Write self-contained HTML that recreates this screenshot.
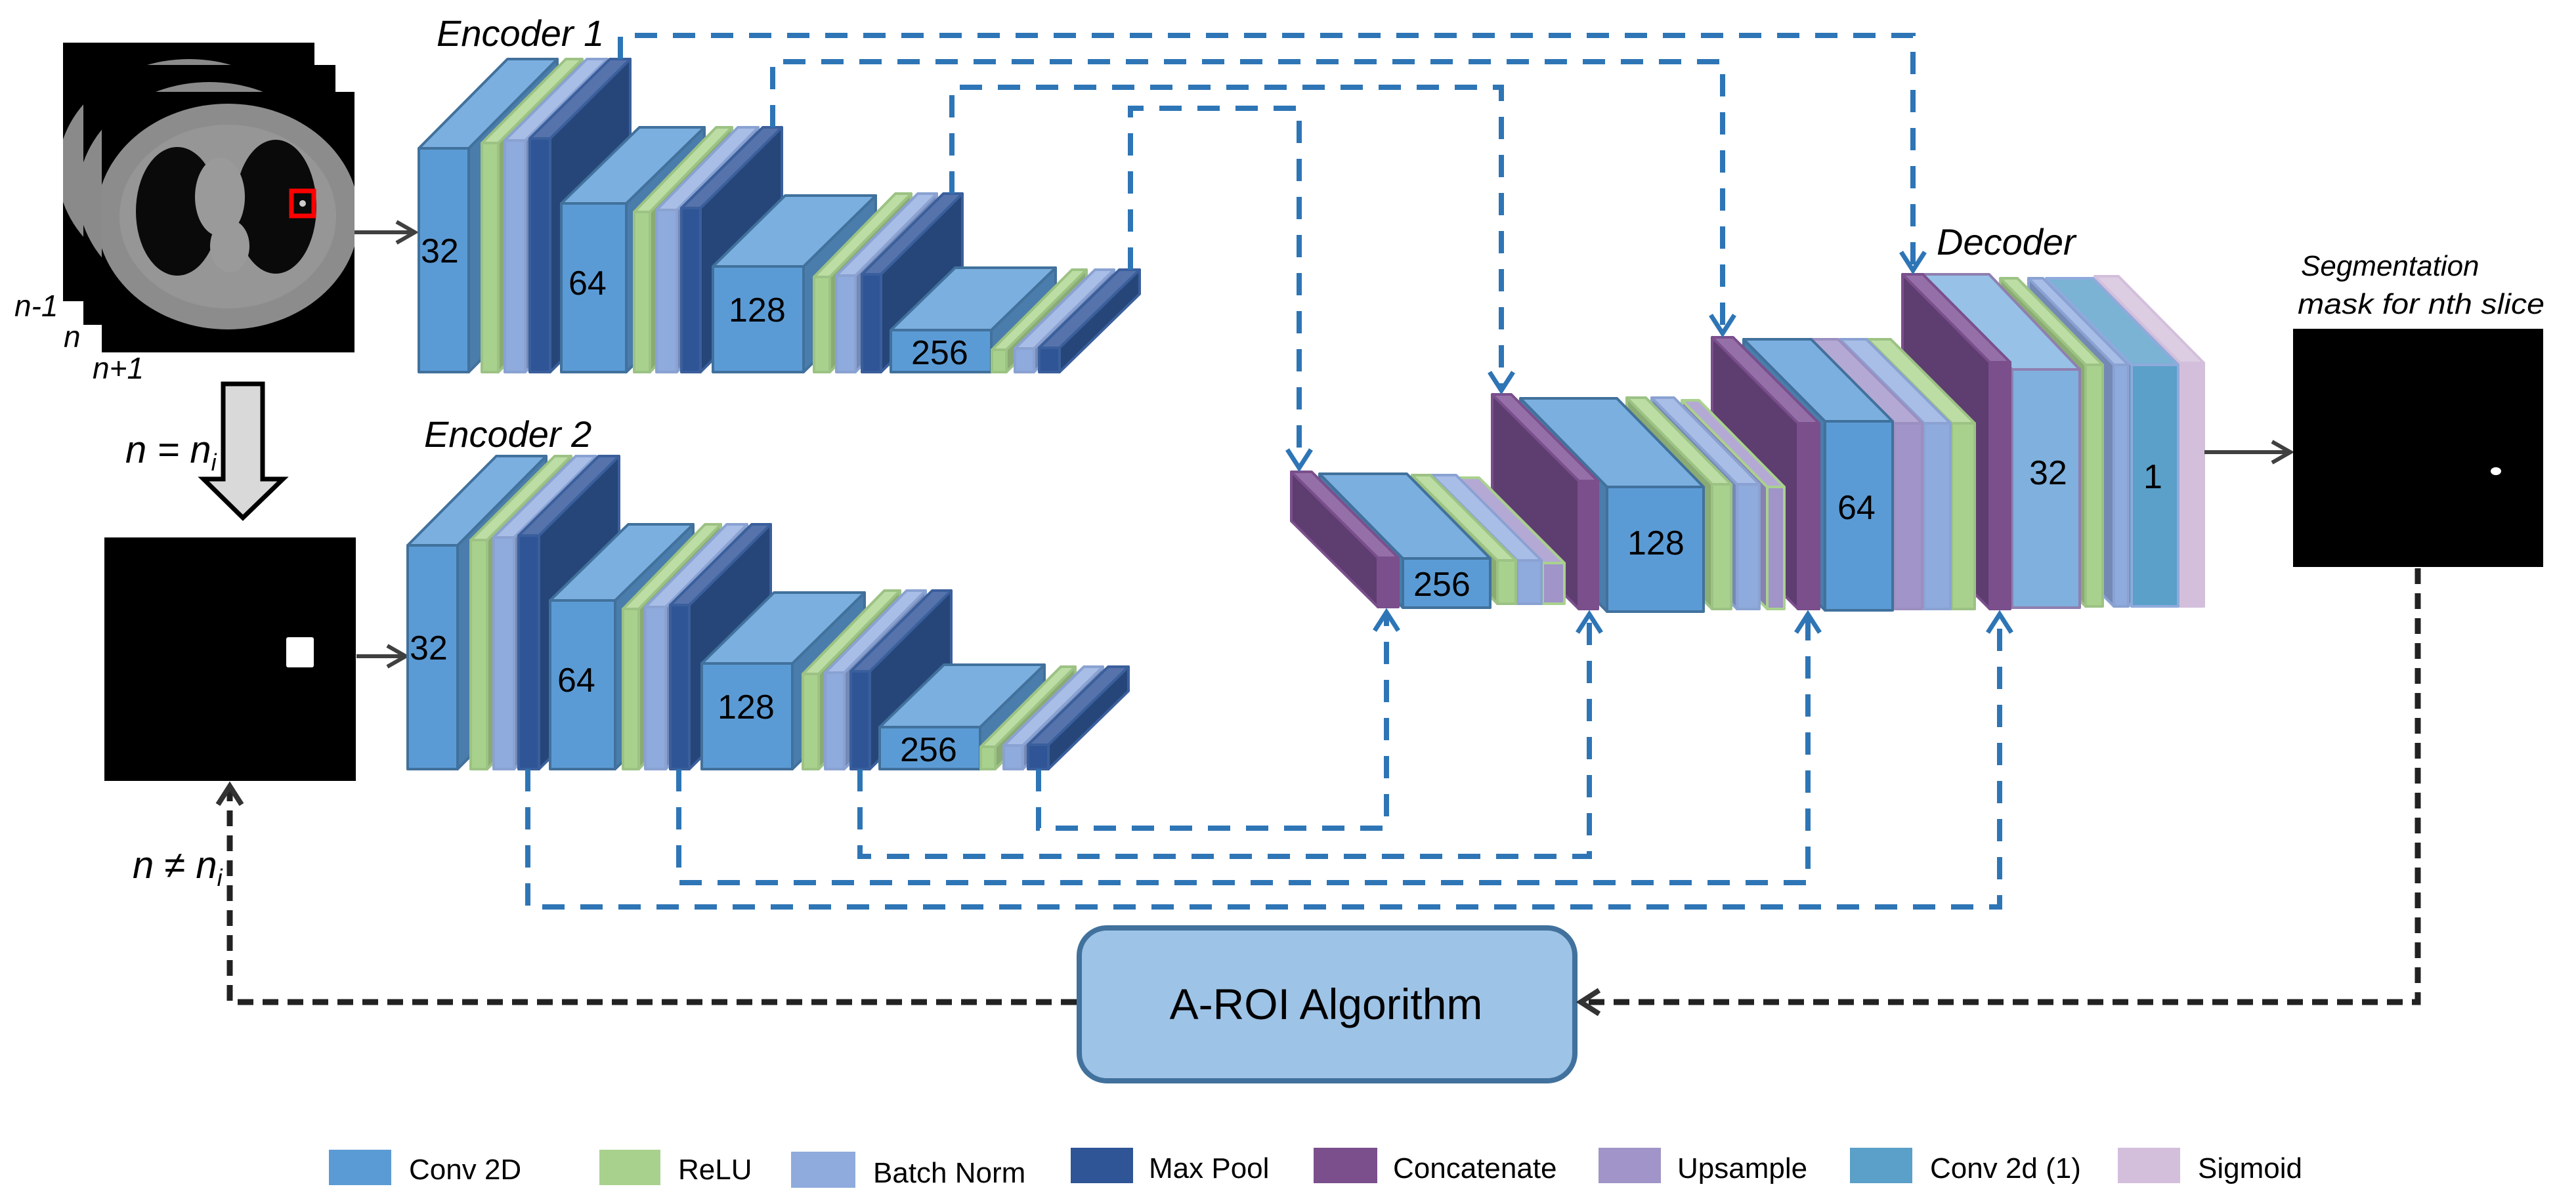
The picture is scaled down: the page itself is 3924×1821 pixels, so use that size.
<!DOCTYPE html>
<html><head><meta charset="utf-8"><style>
html,body{margin:0;padding:0;background:#fff;}
svg{display:block;}
text{font-family:"Liberation Sans",sans-serif;}
</style></head><body>
<svg id="s" width="3924" height="1821" viewBox="0 0 3924 1821" xmlns="http://www.w3.org/2000/svg">
<defs>
<marker id="ab" markerWidth="12" markerHeight="12" refX="10" refY="6" orient="auto" markerUnits="userSpaceOnUse" viewBox="0 0 12 12" style="overflow:visible">
<path d="M-18,-12 L10,6 L-18,24" fill="none" stroke="#2e75b6" stroke-width="7"/></marker>
<marker id="ak" markerWidth="12" markerHeight="12" refX="10" refY="6" orient="auto" markerUnits="userSpaceOnUse" viewBox="0 0 12 12" style="overflow:visible">
<path d="M-18,-12 L10,6 L-18,24" fill="none" stroke="#333" stroke-width="8"/></marker>
<marker id="ag" markerWidth="12" markerHeight="12" refX="10" refY="6" orient="auto" markerUnits="userSpaceOnUse" viewBox="0 0 12 12" style="overflow:visible">
<path d="M-18,-10 L10,6 L-18,22" fill="none" stroke="#404040" stroke-width="6"/></marker>
<clipPath id="c1"><rect x="96" y="65" width="383" height="394"/></clipPath>
<clipPath id="c2"><rect x="127" y="99" width="384" height="396"/></clipPath>
<clipPath id="c3"><rect x="155" y="140" width="385" height="397"/></clipPath>
</defs>

<!-- CT slices -->
<g>
<rect x="96" y="65" width="383" height="394" fill="#000"/>
<g clip-path="url(#c1)"><ellipse cx="288" cy="260" rx="200" ry="170" fill="#8a8a8a"/></g>
<rect x="127" y="99" width="384" height="396" fill="#000"/>
<g clip-path="url(#c2)"><ellipse cx="319" cy="295" rx="200" ry="170" fill="#8a8a8a"/></g>
<rect x="155" y="140" width="385" height="397" fill="#000"/>
<g clip-path="url(#c3)">
<ellipse cx="347" cy="330" rx="200" ry="172" fill="#8c8c8c"/>
<ellipse cx="347" cy="330" rx="165" ry="140" fill="#969696"/>
<ellipse cx="270" cy="322" rx="63" ry="98" fill="#0a0a0a"/>
<ellipse cx="420" cy="315" rx="62" ry="102" fill="#0a0a0a"/>
<ellipse cx="335" cy="300" rx="38" ry="60" fill="#9a9a9a"/>
<ellipse cx="350" cy="375" rx="30" ry="40" fill="#9a9a9a"/>
</g>
<rect x="444" y="291" width="34" height="38" fill="none" stroke="#f00" stroke-width="7"/>
<circle cx="461" cy="310" r="5" fill="#ccc"/>
</g>
<text x="22" y="482" font-size="46" font-style="italic">n-1</text>
<text x="97" y="529" font-size="46" font-style="italic">n</text>
<text x="141" y="577" font-size="46" font-style="italic">n+1</text>
<line x1="540" y1="354" x2="632" y2="354" stroke="#404040" stroke-width="6" marker-end="url(#ag)"/>

<!-- gray big arrow -->
<path d="M340,585 L400,585 L400,730 L431,730 L370,789 L310,730 L340,730 Z" fill="#d9d9d9" stroke="#000" stroke-width="7"/>
<text x="191" y="705" font-size="58" font-style="italic">n = n<tspan font-size="36" dy="12">i</tspan></text>

<!-- mask 2 -->
<rect x="159" y="819" width="383" height="371" fill="#000"/>
<rect x="436" y="971" width="42" height="46" rx="3" fill="#fff"/>
<line x1="543" y1="1000" x2="618" y2="1000" stroke="#404040" stroke-width="6" marker-end="url(#ag)"/>
<text x="202" y="1338" font-size="58" font-style="italic">n ≠ n<tspan font-size="36" dy="12">i</tspan></text>

<g id="enc1"></g>
<g id="enc2"></g>
<g id="dec"></g>

<text x="665" y="70" font-size="56" font-style="italic">Encoder 1</text>
<text x="646" y="681" font-size="56" font-style="italic">Encoder 2</text>
<text x="2950" y="388" font-size="56" font-style="italic">Decoder</text>

<g font-size="52">
<text x="641" y="400">32</text>
<text x="866" y="449">64</text>
<text x="1110" y="490">128</text>
<text x="1388" y="555">256</text>
<text x="624" y="1005">32</text>
<text x="849" y="1054">64</text>
<text x="1093" y="1095">128</text>
<text x="1371" y="1160">256</text>
<text x="2153" y="908">256</text>
<text x="2479" y="845">128</text>
<text x="2799" y="791">64</text>
<text x="3091" y="738">32</text>
<text x="3265" y="744">1</text>
</g>

<!-- skip connections -->
<g fill="none" stroke="#2e75b6" stroke-width="8" stroke-dasharray="34 24">
<path d="M945,90 L945,54 L2914,54 L2914,412" marker-end="url(#ab)"/>
<path d="M1177,194 L1177,94 L2624,94 L2624,508" marker-end="url(#ab)"/>
<path d="M1450,295 L1450,133 L2287,133 L2287,595" marker-end="url(#ab)"/>
<path d="M1722,411 L1722,165 L1979,165 L1979,713" marker-end="url(#ab)"/>
<path d="M804,1172 L804,1382 L3046,1382 L3046,936" marker-end="url(#ab)"/>
<path d="M1034,1172 L1034,1345 L2754,1345 L2754,936" marker-end="url(#ab)"/>
<path d="M1310,1172 L1310,1305 L2421,1305 L2421,936" marker-end="url(#ab)"/>
<path d="M1582,1172 L1582,1262 L2112,1262 L2112,933" marker-end="url(#ab)"/>
</g>

<!-- output -->
<line x1="3358" y1="689" x2="3489" y2="689" stroke="#404040" stroke-width="6" marker-end="url(#ag)"/>
<text x="3505" y="420" font-size="44" font-style="italic">Segmentation</text>
<text x="3500" y="478" font-size="44" font-style="italic" textLength="376" lengthAdjust="spacingAndGlyphs">mask for nth slice</text>
<rect x="3493" y="501" width="381" height="363" fill="#000"/>
<ellipse cx="3802" cy="718" rx="8" ry="6" fill="#fff"/>

<!-- A-ROI -->
<rect x="1644" y="1414" width="755" height="233" rx="42" fill="#9dc3e6" stroke="#41719c" stroke-width="8"/>
<text x="2020" y="1553" font-size="66" text-anchor="middle">A-ROI Algorithm</text>
<g fill="none" stroke="#222" stroke-width="9" stroke-dasharray="24 14">
<path d="M3683,866 L3683,1527 L2408,1527" marker-end="url(#ak)"/>
<path d="M1640,1527 L350,1527 L350,1198" marker-end="url(#ak)"/>
</g>

<!-- legend -->
<g font-size="44">
<rect x="501" y="1752" width="95" height="54" fill="#5b9bd5"/><text x="623" y="1797">Conv 2D</text>
<rect x="913" y="1752" width="93" height="54" fill="#a9d18e"/><text x="1033" y="1797">ReLU</text>
<rect x="1205" y="1755" width="98" height="55" fill="#8faadc"/><text x="1330" y="1802">Batch Norm</text>
<rect x="1631" y="1749" width="95" height="54" fill="#2f5597"/><text x="1750" y="1795">Max Pool</text>
<rect x="2001" y="1749" width="97" height="54" fill="#7a4f8c"/><text x="2122" y="1795">Concatenate</text>
<rect x="2435" y="1749" width="95" height="54" fill="#a094c8"/><text x="2555" y="1795">Upsample</text>
<rect x="2818" y="1749" width="95" height="54" fill="#5aa0c8"/><text x="2940" y="1795">Conv 2d (1)</text>
<rect x="3226" y="1749" width="95" height="54" fill="#d3bfdc"/><text x="3348" y="1795">Sigmoid</text>
</g>
</svg>
<script>
(function(){
var NS="http://www.w3.org/2000/svg";
var C={
conv:["#5b9bd5","#7aafdf","#4a7dab","#41719c"],
relu:["#a9d18e","#bcdda4","#8aab73","#9cc284"],
bn:["#8faadc","#a8bee7","#7589b5","#8aa2d2"],
mp:["#2f5597","#5673ab","#264679","#3a5f9c"],
cat:["#7a4f8c","#9570a8","#5e3d70","#7a4f8c"],
up:["#a094c8","#b4a9d4","#8880ad","#9a8fc0"],
upg:["#a094c8","#b4a9d4","#8880ad","#a9d18e"],
dconv:["#7fb0de","#97c1e6","#6b98c4","#8f7fb0"],
teal:["#5aa0c8","#7ab3d3","#4a86a8","#8faadc"],
sig:["#d3bfdc","#dccde3","#b19ebb","#d3bfdc"]};
function poly(g,pts,fill,stroke){var p=document.createElementNS(NS,"polygon");p.setAttribute("points",pts.map(function(a){return a[0]+","+a[1]}).join(" "));p.setAttribute("fill",fill);p.setAttribute("stroke",stroke);p.setAttribute("stroke-width","4");p.setAttribute("stroke-linejoin","round");g.appendChild(p);}
function box(g,L,ox,oy){var x1=L[0]+ox,x2=L[1]+ox,yt=L[2]+oy,yb=L[3]+oy,dx=L[4],dy=L[5],c=C[L[6]];
 if(dx>0){poly(g,[[x2,yt],[x2+dx,yt+dy],[x2+dx,yb+dy],[x2,yb]],c[2],c[3]);}
 else{poly(g,[[x1,yt],[x1+dx,yt+dy],[x1+dx,yb+dy],[x1,yb]],c[2],c[3]);}
 poly(g,[[x1,yt],[x1+dx,yt+dy],[x2+dx,yt+dy],[x2,yt]],c[1],c[3]);
 poly(g,[[x1,yt],[x2,yt],[x2,yb],[x1,yb]],c[0],c[3]);}
var E=[
[638,714,226,567,135,-136,"conv"],[734,759,218,567,128,-128,"relu"],[769,800,214,567,125,-124,"bn"],[807,838,211,567,122,-121,"mp"],
[855,954,310,567,119,-116,"conv"],[966,990,323,567,125,-129,"relu"],[1000,1031,320,567,124,-126,"bn"],[1038,1067,317,567,124,-123,"mp"],
[1086,1224,406,567,110,-108,"conv"],[1240,1264,422,567,124,-127,"relu"],[1274,1303,420,567,124,-125,"bn"],[1313,1342,418,567,124,-123,"mp"],
[1357,1510,503,567,98,-95,"conv"],[1511,1533,533,567,122,-122,"relu"],[1546,1575,531,567,122,-120,"bn"],[1583,1614,530,567,122,-119,"mp"]];
var g1=document.getElementById("enc1"),g2=document.getElementById("enc2");
E.forEach(function(L){box(g1,L,0,0);});
E.forEach(function(L){box(g2,L,-17,605);});
var D=[
[2099,2130,850,925,-132,-131,"cat"],[2137,2270,851,926,-127,-129,"conv"],[2281,2309,854,920,-130,-130,"relu"],[2311,2348,854,920,-130,-130,"bn"],[2350,2383,858,920,-130,-130,"upg"],
[2405,2434,733,928,-132,-132,"cat"],[2448,2595,742,932,-132,-135,"conv"],[2608,2637,738,928,-130,-132,"relu"],[2646,2680,738,928,-130,-132,"bn"],[2692,2718,742,928,-130,-132,"upg"],
[2739,2771,645,928,-131,-131,"cat"],[2780,2883,642,930,-124,-125,"conv"],[2885,2928,645,928,-128,-128,"up"],[2931,2971,645,928,-128,-128,"bn"],[2973,3008,645,928,-128,-128,"relu"],
[3031,3062,552,928,-133,-134,"cat"],[3065,3168,563,926,-138,-145,"dconv"],[3177,3203,556,924,-130,-132,"relu"],[3220,3242,556,924,-130,-132,"bn"],[3247,3318,556,924,-130,-132,"teal"],[3321,3357,553,924,-130,-132,"sig"]];
var gd=document.getElementById("dec");
for(var i=D.length-1;i>=0;i--)box(gd,D[i],0,0);
})();
</script>
</body></html>
